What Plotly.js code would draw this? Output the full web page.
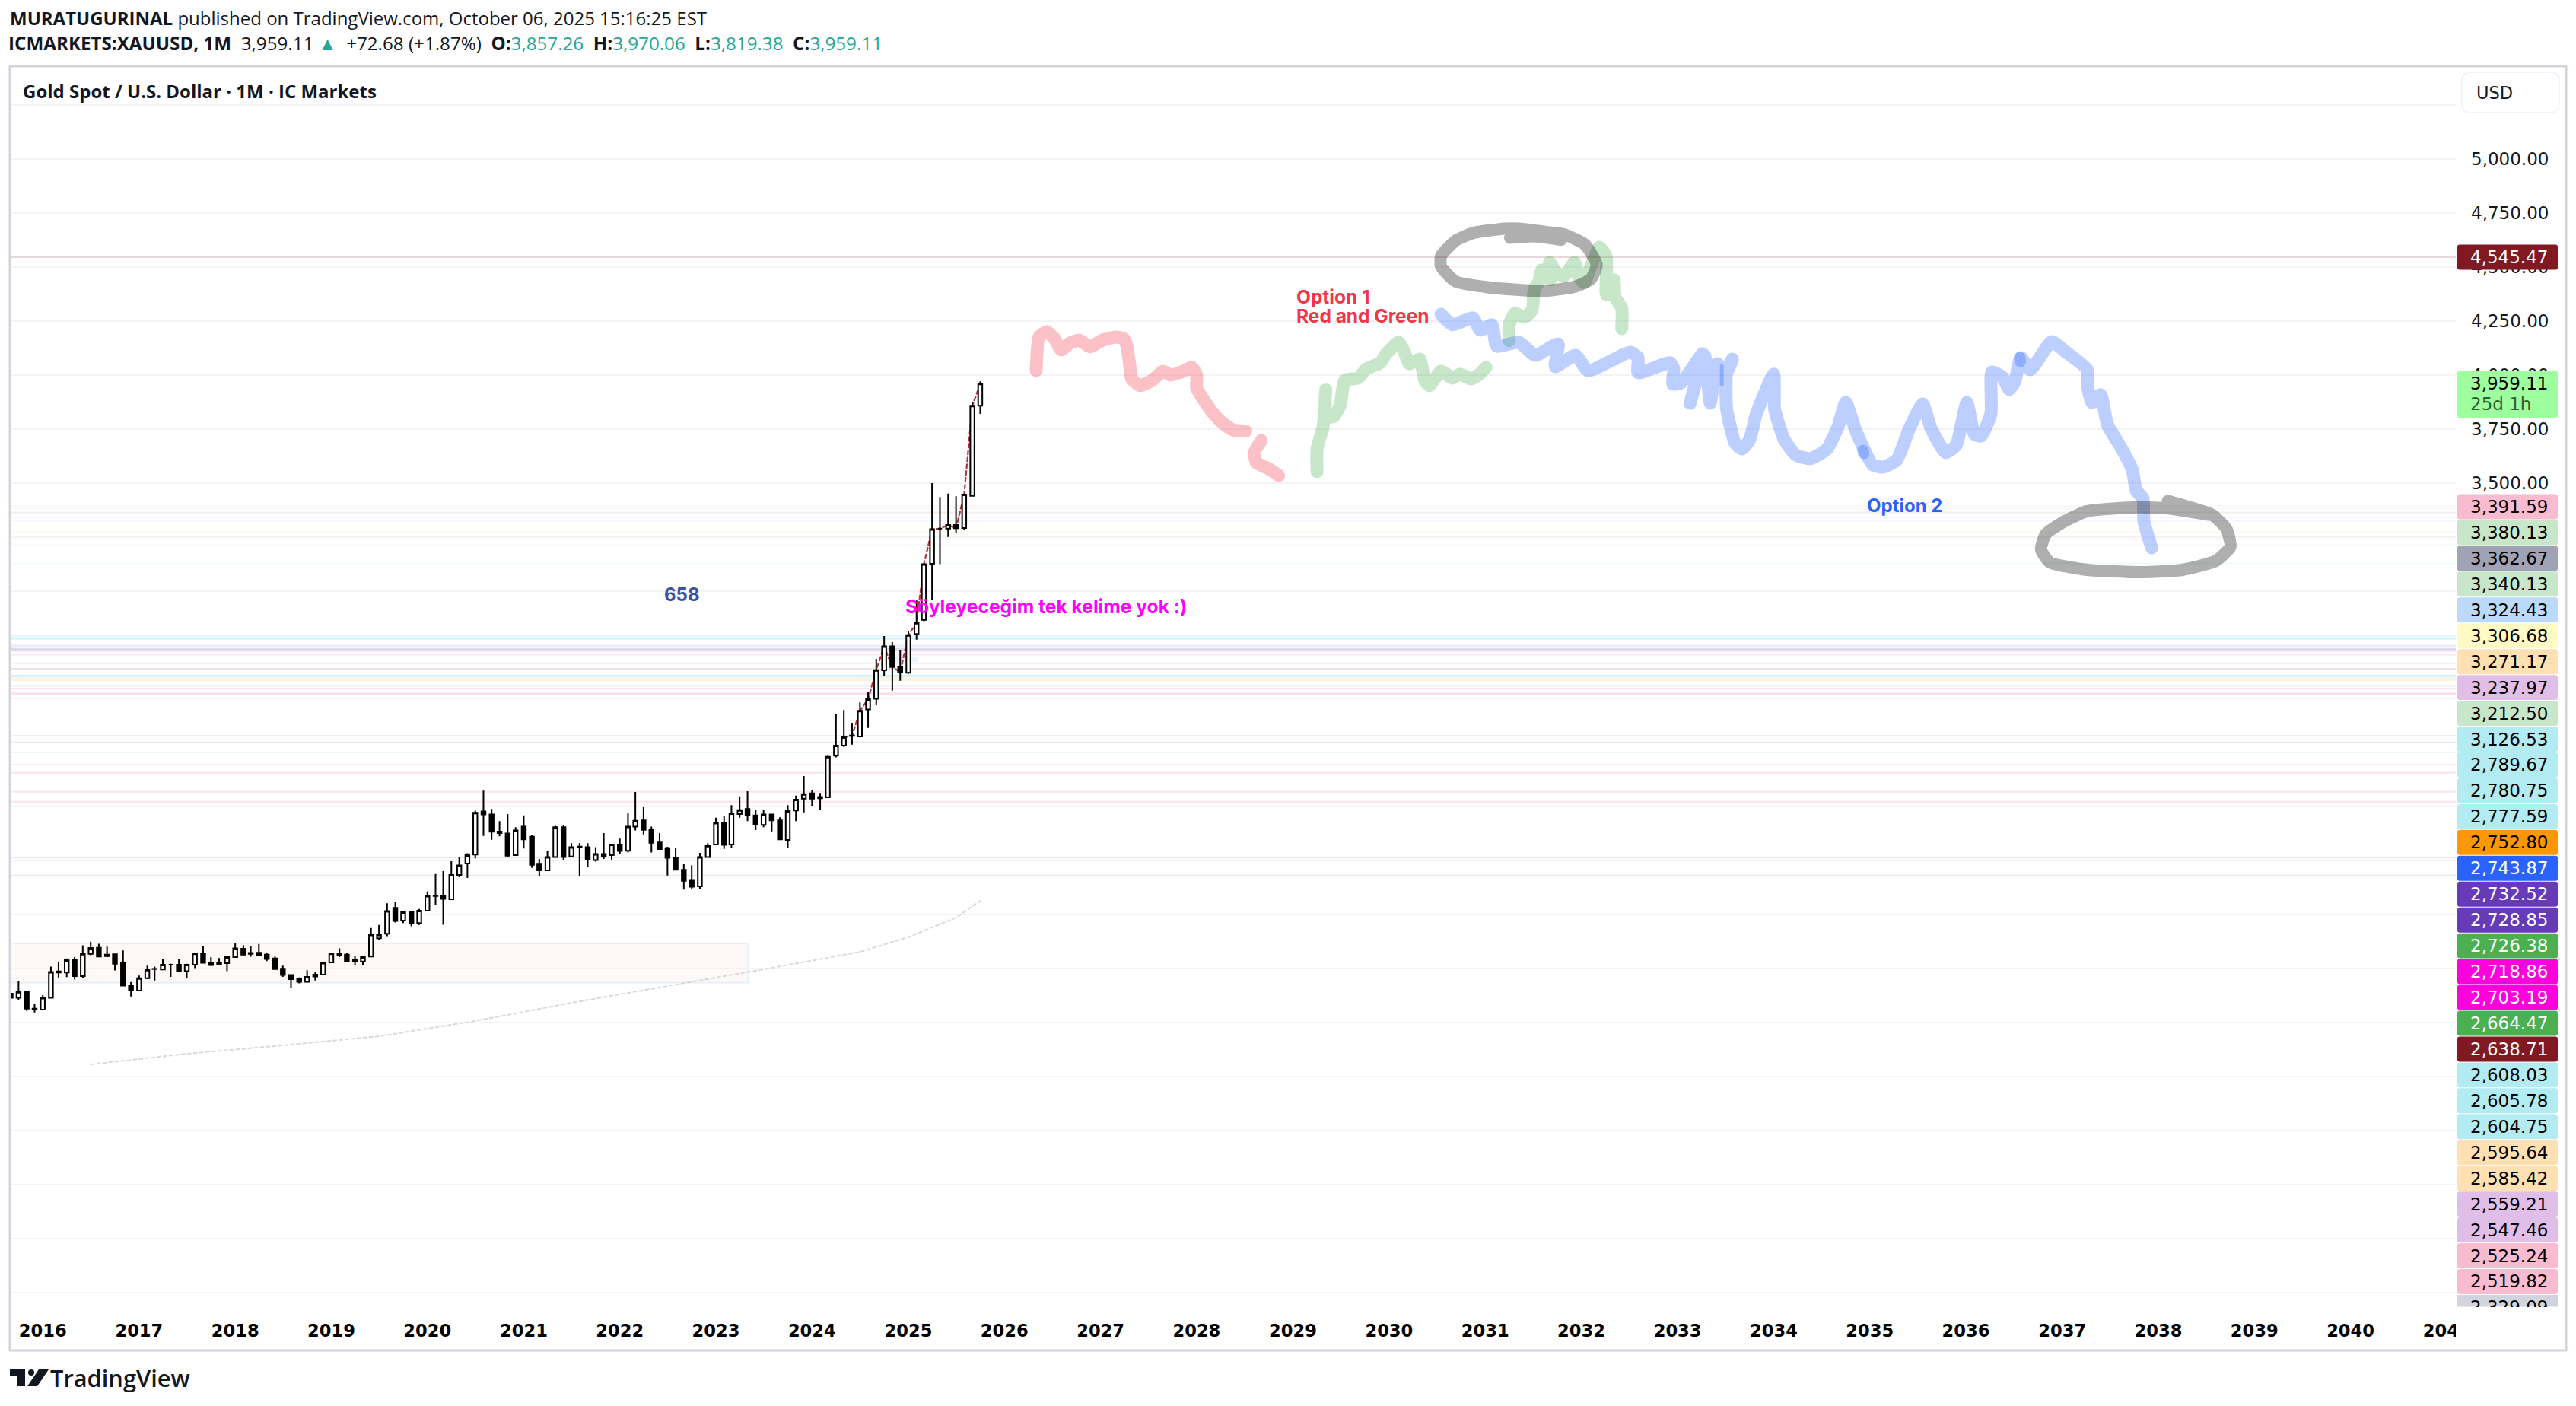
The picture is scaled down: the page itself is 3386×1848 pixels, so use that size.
<!DOCTYPE html>
<html><head><meta charset="utf-8">
<script src="https://cdn.plot.ly/plotly-3.0.1.min.js"></script>
<style>html,body{margin:0;padding:0;background:#fff}#c{width:3386px;height:1848px}</style>
</head><body><div id="c"></div>
<script>
const months=["2015-09","2015-10","2015-11","2015-12",
"2016-01","2016-02","2016-03","2016-04","2016-05","2016-06","2016-07","2016-08","2016-09","2016-10","2016-11","2016-12",
"2017-01","2017-02","2017-03","2017-04","2017-05","2017-06","2017-07","2017-08","2017-09","2017-10","2017-11","2017-12",
"2018-01","2018-02","2018-03","2018-04","2018-05","2018-06","2018-07","2018-08","2018-09","2018-10","2018-11","2018-12",
"2019-01","2019-02","2019-03","2019-04","2019-05","2019-06","2019-07","2019-08","2019-09","2019-10","2019-11","2019-12",
"2020-01","2020-02","2020-03","2020-04","2020-05","2020-06","2020-07","2020-08","2020-09","2020-10","2020-11","2020-12",
"2021-01","2021-02","2021-03","2021-04","2021-05","2021-06","2021-07","2021-08","2021-09","2021-10","2021-11","2021-12",
"2022-01","2022-02","2022-03","2022-04","2022-05","2022-06","2022-07","2022-08","2022-09","2022-10","2022-11","2022-12",
"2023-01","2023-02","2023-03","2023-04","2023-05","2023-06","2023-07","2023-08","2023-09","2023-10","2023-11","2023-12",
"2024-01","2024-02","2024-03","2024-04","2024-05","2024-06","2024-07","2024-08","2024-09","2024-10","2024-11","2024-12",
"2025-01","2025-02","2025-03","2025-04","2025-05","2025-06","2025-07","2025-08","2025-09","2025-10"];
const opens=[1134,1115,1142,1065,
1060,1115,1237,1232,1289,1215,1318,1347,1308,1317,1276,1171,
1148,1206,1248,1246,1268,1268,1238,1268,1320,1277,1270,1275,
1303,1342,1318,1324,1315,1297,1250,1221,1201,1189,1214,1222,
1279,1321,1315,1292,1283,1306,1391,1412,1532,1473,1512,1461,
1518,1588,1588,1571,1684,1737,1778,1978,1964,1885,1876,1776,
1908,1861,1736,1705,1767,1905,1769,1813,1813,1753,1781,1776,
1825,1796,1908,1937,1893,1835,1808,1763,1708,1661,1631,1767,
1825,1925,1825,1966,1990,1960,1916,1964,1937,1846,1983,2037,
2062,2039,2043,2236,2283,2330,2325,2450,2500,2632,2743,2647,
2620,2800,2865,3125,3288,3288,3305,3291,3440,3857.26];
const highs=[1156,1191,1142,1088,
1127,1259,1282,1297,1303,1358,1375,1365,1352,1317,1334,1188,
1218,1264,1259,1295,1273,1295,1273,1324,1356,1303,1299,1303,
1367,1359,1356,1364,1324,1306,1264,1221,1209,1243,1236,1279,
1324,1344,1324,1309,1306,1438,1452,1553,1557,1518,1514,1526,
1608,1688,1702,1747,1765,1784,1982,2074,1990,1933,1966,1905,
1960,1870,1758,1796,1911,1916,1831,1831,1831,1813,1878,1825,
1852,1972,2068,1998,1908,1878,1814,1808,1734,1729,1786,1831,
1949,1958,2007,2048,2072,1984,1987,1964,1951,2007,2051,2142,
2078,2064,2236,2431,2448,2389,2483,2530,2685,2790,2762,2727,
2814,2955,3128,3499,3434,3450,3438,3450,3871,3970.06];
const lows=[1098,1103,1054,1047,
1060,1113,1209,1211,1200,1207,1312,1306,1303,1242,1171,1121,
1148,1201,1195,1246,1212,1238,1205,1252,1277,1262,1266,1238,
1303,1309,1305,1312,1285,1244,1212,1160,1182,1185,1195,1222,
1277,1303,1279,1267,1267,1306,1383,1400,1464,1461,1446,1452,
1518,1547,1453,1571,1673,1670,1761,1865,1847,1863,1767,1776,
1806,1717,1678,1705,1764,1752,1769,1678,1720,1746,1758,1753,
1781,1788,1890,1872,1788,1804,1681,1708,1616,1620,1620,1767,
1825,1805,1810,1949,1933,1892,1905,1886,1849,1811,1933,1974,
2004,1985,2043,2228,2277,2287,2321,2365,2471,2606,2538,2583,
2615,2774,2859,2959,3123,3249,3268,3282,3440,3819.38];
const closes=[1115,1142,1065,1060,
1115,1235,1232,1289,1215,1318,1346,1306,1315,1273,1171,1151,
1206,1244,1249,1268,1268,1238,1268,1320,1277,1266,1275,1303,
1344,1315,1323,1312,1295,1248,1221,1201,1189,1212,1222,1277,
1320,1313,1285,1283,1303,1407,1407,1517,1471,1511,1461,1518,
1587,1586,1573,1684,1728,1776,1972,1964,1884,1878,1773,1890,
1849,1731,1705,1767,1905,1767,1813,1815,1757,1781,1770,1825,
1795,1908,1935,1893,1833,1804,1763,1708,1657,1629,1767,1819,
1925,1823,1969,1984,1960,1919,1964,1937,1849,1980,2033,2058,
2037,2045,2231,2283,2322,2328,2444,2498,2633,2743,2647,2624,
2795,2851,3123,3285,3288,3305,3290,3446,3857,3959.11];

const maYears=[2016.5,2017.5,2018.5,2019.5,2020.5,2021.5,2022.5,2023.5,2024.5,2025,2025.5,2025.75];
const maPrices=[807,856,895,937,1008,1092,1170,1247,1328,1396,1487,1565];

const redYears=[2026.33,2026.36,2026.44,2026.52,2026.59,2026.68,2026.78,2026.89,2027.02,2027.16,2027.24,2027.27,2027.31,2027.32,2027.41,2027.54,2027.65,2027.73,2027.86,2027.95,2028.00,2028.00,2028.06,2028.17,2028.26,2028.37,2028.51,null,2028.67,2028.60,2028.62,2028.76,2028.85];
const redPrices=[4020,4175,4200,4168,4116,4147,4161,4130,4161,4175,4168,4140,4024,3985,3950,3975,4017,3999,4017,4035,3999,3939,3894,3823,3781,3746,3739,null,3696,3640,3594,3562,3534];

const greenYears=[2029.25,2029.25,2029.31,2029.33,2029.34,2029.34,2029.42,2029.49,2029.54,2029.68,2029.76,2029.91,2029.97,2030.10,2030.16,2030.21,2030.32,2030.37,2030.42,2030.54,2030.66,2030.74,2030.85,2030.93,2031.01,null,
2031.25,2031.25,2031.31,2031.41,2031.49,2031.51,2031.56,2031.59,2031.68,2031.67,2031.74,2031.82,2031.93,2031.97,2032.03,2032.10,2032.19,2032.26,2032.26,2032.34,2032.35,2032.42,2032.42];
const greenPrices=[3552,3657,3753,3823,3929,3809,3806,3858,3975,3985,4027,4056,4098,4151,4105,4052,4073,3975,3950,4017,3985,4003,3982,3999,4035,null,
4158,4232,4285,4267,4302,4397,4433,4486,4440,4521,4475,4457,4521,4457,4426,4503,4591,4545,4373,4440,4362,4309,4214];

const blueYears=[2030.54,2030.66,2030.87,2030.95,2031.07,2031.12,2031.35,2031.52,2031.76,2031.73,2031.94,2032.07,2032.51,2032.59,2032.59,2032.92,2032.96,2032.95,2033.04,2033.26,2033.13,2033.28,2033.34,2033.41,2033.51,2033.57,2033.51,2033.51,2033.60,2033.67,2033.75,2033.82,2034.00,2034.01,2034.11,2034.23,2034.38,2034.55,2034.67,2034.75,2034.86,2035.03,2035.14,2035.28,2035.41,2035.55,2035.64,2035.79,2035.90,2036.01,2036.09,2036.16,2036.26,2036.27,2036.38,2036.45,2036.51,2036.57,2036.67,2036.89,2037.03,2037.26,2037.26,2037.31,2037.40,2037.47,2037.61,2037.73,2037.77,2037.84,2037.85,2037.93];
const bluePrices=[4281,4232,4264,4207,4232,4133,4151,4091,4144,4038,4091,4020,4105,4080,4010,4056,4027,3957,3964,4098,3869,4091,3869,4052,4010,4073,4010,3844,3682,3657,3700,3820,4003,3841,3700,3629,3612,3654,3760,3872,3735,3584,3573,3605,3749,3865,3749,3640,3675,3872,3724,3717,3820,4013,3990,3932,3971,4080,4024,4154,4109,4024,3961,3872,3908,3770,3665,3559,3464,3428,3323,3199];
const blueDotYears=[2034.93,2034.935,null,2036.56,2036.565];
const blueDotPrices=[3650,3636,null,4080,4062];
const blueSeamYears=[2033.46,2033.46];
const blueSeamPrices=[4040,3955];

const grayYears=[2031.21,2030.88,2030.69,2030.54,2030.54,2030.69,2031.04,2031.60,2031.94,2032.10,2032.16,2032.04,2031.82,2031.63,2031.35,2031.21,null,2031.26,2031.51,2031.79,null,
2038.10,2038.56,2038.71,2038.75,2038.60,2038.25,2037.83,2037.26,2036.87,2036.78,2036.83,2037.03,2037.26,2037.79,2038.10,2038.53];
const grayPrices=[4677,4658,4621,4550,4503,4433,4405,4388,4409,4444,4510,4603,4651,4662,4677,4677,null,4635,4642,4626,null,
3416,3352,3286,3204,3139,3097,3086,3097,3132,3192,3263,3323,3369,3387,3381,3352];

const levelPrices=[4545.47,3391.59,3380.13,3362.67,3340.13,3324.43,3306.68,3271.17,3237.97,3212.50,3126.53,2789.67,2780.75,2777.59,2752.80,2743.87,2732.52,2728.85,2726.38,2718.86,2703.19,2664.47,2638.71,2608.03,2605.78,2604.75,2595.64,2585.42,2559.21,2547.46,2525.24,2519.82,2329.09];
const levelLabels=["4,545.47","3,391.59","3,380.13","3,362.67","3,340.13","3,324.43","3,306.68","3,271.17","3,237.97","3,212.50","3,126.53","2,789.67","2,780.75","2,777.59","2,752.80","2,743.87","2,732.52","2,728.85","2,726.38","2,718.86","2,703.19","2,664.47","2,638.71","2,608.03","2,605.78","2,604.75","2,595.64","2,585.42","2,559.21","2,547.46","2,525.24","2,519.82","2,329.09"];
const levelColors=["#801922","#F8BBD0","#C8E6C9","#9FA3B5","#C8E6C9","#BBD9FB","#FFF9C4","#FFE0B2","#E1BEE7","#C8E6C9","#B2EBF2","#B2EBF2","#B2EBF2","#B2EBF2","#FF9800","#2962FF","#673AB7","#673AB7","#4CAF50","#FF00DD","#FF00DD","#4CAF50","#801922","#B2EBF2","#B2EBF2","#B2EBF2","#FFE0B2","#FFE0B2","#E1BEE7","#E1BEE7","#F8BBD0","#F8BBD0","#D1D4DC"];
const faintPinkLevels=[2195,2157,2069,2023];
const faintGrayLevels=[2298,1764,1681];
const yearTicks=[2016,2017,2018,2019,2020,2021,2022,2023,2024,2025,2026,2027,2028,2029,2030,2031,2032,2033,2034,2035,2036,2037,2038,2039,2040,2041];
const gridPrices=[5250,5000,4750,4500,4250,4000,3750,3500,3250,3000,2750,2500,2250,2000,1750,1500,1250,1000,750,500,250,0,-250];
const shownPrices=[5000,4750,4500,4250,4000,3750,3500];
const zoneTop=1367, zoneBottom=1185, zoneEnd="2023-05-03";
const smallZone={x0:"2024-10-20",x1:"2025-02-05",top:2696,bottom:2671};
const closeLineStart="2024-05";

/* frame geometry */
const W=3386,H=1848,L=14,R=3228,T=88,B=1718;
const px=x=>(x-L)/(R-L), py=y=>(B-y)/(B-T);
const dateOf=v=>{if(v===null)return null;const y=Math.floor(v);const a=Date.UTC(y,0,1),b=Date.UTC(y+1,0,1);return a+(v-y)*(b-a);};
const dates=a=>a.map(dateOf);
const FONT="DejaVu Sans", HEAD="Open Sans", NOTE="Inter";
const INK="#131722";

function box(x0,y0,x1,y1,r,fill,stroke){
  const X=v=>px(v).toFixed(6), Y=v=>py(v).toFixed(6);
  const path=`M ${X(x0+r)} ${Y(y0)} L ${X(x1-r)} ${Y(y0)} Q ${X(x1)} ${Y(y0)} ${X(x1)} ${Y(y0+r)} L ${X(x1)} ${Y(y1-r)} Q ${X(x1)} ${Y(y1)} ${X(x1-r)} ${Y(y1)} L ${X(x0+r)} ${Y(y1)} Q ${X(x0)} ${Y(y1)} ${X(x0)} ${Y(y1-r)} L ${X(x0)} ${Y(y0+r)} Q ${X(x0)} ${Y(y0)} ${X(x0+r)} ${Y(y0)} Z`;
  return {type:'path',xref:'paper',yref:'paper',path,fillcolor:fill,line:stroke?{color:stroke,width:2}:{width:0},layer:'above'};
}
function levelAlpha(c,p){
  const soft=["#F8BBD0","#C8E6C9","#BBD9FB","#FFF9C4","#FFE0B2","#E1BEE7","#B2EBF2","#D1D4DC"];
  if(soft.includes(c)) return p>3000?0.16:0.4;
  if(c==="#FF00DD") return 0.08;
  return p>3000?0.16:0.12;
}
const shapes=[];
/* zones */
shapes.push({type:'rect',xref:'x',yref:'y',x0:"2015-01-01",x1:zoneEnd,y0:zoneBottom,y1:zoneTop,fillcolor:'rgba(230,120,90,0.05)',line:{color:'#e6f0fb',width:2},layer:'below'});
shapes.push({type:'rect',xref:'x',yref:'y',x0:smallZone.x0,x1:smallZone.x1,y0:smallZone.bottom,y1:smallZone.top,fillcolor:'rgba(41,98,255,0.09)',line:{width:0},layer:'below'});
/* levels */
levelPrices.forEach((p,i)=>shapes.push({type:'line',xref:'paper',yref:'y',x0:0,x1:1,y0:p,y1:p,line:{color:levelColors[i],width:2},opacity:levelAlpha(levelColors[i],p),layer:'below'}));
faintPinkLevels.forEach(p=>shapes.push({type:'line',xref:'paper',yref:'y',x0:0,x1:1,y0:p,y1:p,line:{color:'#F8BBD0',width:2},opacity:0.4,layer:'below'}));
faintGrayLevels.forEach(p=>shapes.push({type:'line',xref:'paper',yref:'y',x0:0,x1:1,y0:p,y1:p,line:{color:'#B4B7CC',width:2},opacity:0.3,layer:'below'}));
/* right column cover (clips the cut-off year label) */
shapes.push({type:'rect',xref:'paper',yref:'paper',x0:px(3228),x1:px(3372),y0:py(1772),y1:py(1718),fillcolor:'#fff',line:{width:0},layer:'above'});
/* price boxes */
const STEP=33.95, FIRST=649;
const anns=[];
const ann=(o)=>anns.push(Object.assign({showarrow:false,xref:'paper',yref:'paper',borderpad:0,borderwidth:0},o));
levelLabels.forEach((t,i)=>{
  const c=levelColors[i];
  const white=["#801922","#2962FF","#673AB7","#4CAF50","#FF00DD"].includes(c);
  let top,bot;
  if(i===0){top=321;bot=355;} else {top=FIRST+(i-1)*STEP;bot=Math.min(top+STEP,B);}
  shapes.push(box(3230,top+0.5,3362,bot-0.5,i===levelLabels.length-1?0:3,c));
  const cy=i===0?338:FIRST+(i-1)*STEP+STEP/2;
  ann({x:px(3247),y:py(cy),xanchor:'left',yanchor:'middle',text:t,font:{family:FONT,size:23,color:white?'#fff':'#000'}});
});
shapes.push(box(3230,487,3362,549,3,'#9EFF9E'));
ann({x:px(3247),y:py(504),xanchor:'left',yanchor:'middle',text:"3,959.11",font:{family:FONT,size:23,color:'#000'}});
ann({x:px(3247),y:py(531),xanchor:'left',yanchor:'middle',text:"25d 1h",font:{family:FONT,size:23,color:'#2f5f2f'}});
shapes.push(box(3236,95,3364,148,12,'#fff','#f0f3fa'));
ann({x:px(3255),y:py(122),xanchor:'left',yanchor:'middle',text:"USD",font:{family:FONT,size:22.5,color:INK}});
/* cover for the label that runs off the bottom of the column */
ann({x:px(3230),y:py(1718),xanchor:'left',yanchor:'top',width:132,height:22,bgcolor:'#fff',text:' ',font:{size:10}});
/* frame */
shapes.push({type:'rect',xref:'paper',yref:'paper',x0:px(13),x1:px(3373),y0:py(1775),y1:py(87),line:{color:'#d1d4dc',width:3},layer:'above'});
/* logo */
const P=(pts)=>'M '+pts.map(([a,b])=>px(a).toFixed(6)+' '+py(b).toFixed(6)).join(' L ')+' Z';
shapes.push({type:'path',xref:'paper',yref:'paper',fillcolor:INK,line:{width:0},layer:'above',path:P([[13,1800],[33,1800],[33,1822],[22,1822],[22,1808],[13,1808]])});
shapes.push({type:'path',xref:'paper',yref:'paper',fillcolor:INK,line:{width:0},layer:'above',path:P([[51,1800],[64,1800],[49,1822],[36,1822]])});
shapes.push({type:'circle',xref:'paper',yref:'paper',fillcolor:INK,line:{width:0},layer:'above',x0:px(37),x1:px(45),y0:py(1808),y1:py(1800)});

/* header + title */
const UP='#26a69a';
const g=s=>`<span style="color:${UP}">${s}</span>`;
const SP='\u00A0';
ann({x:px(13),y:py(23.5),xanchor:'left',yanchor:'middle',align:'left',text:'<b>MURATUGURINAL</b> published on TradingView.com, October 06, 2025 15:16:25 EST',font:{family:HEAD,size:24,color:INK}});
ann({x:px(11),y:py(56.5),xanchor:'left',yanchor:'middle',align:'left',text:`<b>ICMARKETS:XAUUSD, 1M</b>${SP}${SP}3,959.11 ${g('▲')}${SP}${SP}+72.68 (+1.87%)${SP}${SP}<b>O:</b>${g('3,857.26')}${SP}${SP}<b>H:</b>${g('3,970.06')}${SP}${SP}<b>L:</b>${g('3,819.38')}${SP}${SP}<b>C:</b>${g('3,959.11')}`,font:{family:HEAD,size:24.2,color:INK}});
ann({x:px(30),y:py(119),xanchor:'left',yanchor:'middle',align:'left',text:'<b>Gold Spot / U.S. Dollar · 1M · IC Markets</b>',font:{family:HEAD,size:24,color:INK}});
ann({x:px(66),y:py(1811),xanchor:'left',yanchor:'middle',align:'left',text:'TradingView',font:{family:HEAD,size:30.8,color:INK,weight:600}});

/* chart notes, placed in data space */
const note=(yr,price,text,color,size,extra)=>anns.push(Object.assign({showarrow:false,xref:'x',yref:'y',x:dateOf(yr),y:price,xanchor:'left',yanchor:'middle',align:'left',borderpad:0,text,font:{family:NOTE,size,color}},extra||{}));
note(2022.65,2981,'<b>658</b>','#3a53a4',24,{xanchor:'center'});
note(2024.96,2928,'<b>Söyleyeceğim tek kelime yok :)</b>','#ff00ff',24.6);
note(2029.03,4363,'<b>Option 1</b>','#f23645',24.5);
note(2029.03,4275,'<b>Red and Green</b>','#f23645',24.5);
note(2034.96,3393,'<b>Option 2</b>','#2962ff',24);

/* traces */
const stroke=(xs,ys,color,width,op)=>({type:'scatter',mode:'lines',x:dates(xs),y:ys,yaxis:'y',line:{color,width,shape:'spline',smoothing:0.5},opacity:op,connectgaps:false,hoverinfo:'skip',showlegend:false});
const startIdx=months.indexOf(closeLineStart);
const traces=[
 {type:'scatter',mode:'lines',x:dates(maYears),y:maPrices,line:{color:'#d9d9d9',width:2,dash:'4px,4px'},hoverinfo:'skip',showlegend:false},
 {type:'scatter',mode:'lines',x:months.slice(startIdx).map(m=>m+'-01'),y:closes.slice(startIdx),line:{color:'#b2323c',width:2.2,dash:'5px,4px'},hoverinfo:'skip',showlegend:false},
 stroke(redYears,redPrices,'#f23645',17,0.3),
 stroke(greenYears,greenPrices,'#4caf50',17,0.3),
 stroke(blueYears,bluePrices,'#2962ff',17,0.3),
 stroke(blueDotYears,blueDotPrices,'#2962ff',15,0.3),
 stroke(blueSeamYears,blueSeamPrices,'#2962ff',5,0.3),
 stroke(grayYears,grayPrices,'#000000',16,0.31),
 {type:'candlestick',x:months.map(m=>m+'-01'),open:opens,high:highs,low:lows,close:closes,yaxis:'y2',
  increasing:{line:{color:'#000',width:2},fillcolor:'#fff'},
  decreasing:{line:{color:'#000',width:2},fillcolor:'#000'},
  whiskerwidth:0,hoverinfo:'skip',showlegend:false}
];
const yRange=[-317.4,5426];
const layout={
 width:W,height:H,autosize:false,showlegend:false,hovermode:false,
 paper_bgcolor:'#fff',plot_bgcolor:'#fff',
 margin:{l:L,r:W-R,t:T,b:H-B,pad:0},
 boxgap:0.2,boxgroupgap:0.3,
 xaxis:{type:'date',range:['2015-09-01','2041-02-04'],autorange:false,rangeslider:{visible:false},showgrid:false,zeroline:false,showline:false,
   tickmode:'array',tickvals:yearTicks.map(y=>y+'-01-01'),ticktext:yearTicks.map(String),ticks:'',ticklabelstandoff:15,
   tickangle:0,tickfont:{family:FONT,size:22.6,color:'#000',weight:'bold'},fixedrange:true},
 yaxis:{side:'right',range:yRange,autorange:false,tickmode:'array',tickvals:gridPrices,
   ticktext:gridPrices.map(p=>shownPrices.includes(p)?p.toLocaleString('en-US',{minimumFractionDigits:2,maximumFractionDigits:2}):''),
   showgrid:true,gridcolor:'#f3f3f5',gridwidth:2,zeroline:false,showline:false,
   ticks:'',ticklabelstandoff:19,tickfont:{family:FONT,size:23,color:INK},fixedrange:true},
 yaxis2:{overlaying:'y',side:'right',range:yRange,autorange:false,visible:false,showgrid:false,zeroline:false,fixedrange:true},
 shapes,annotations:anns
};
Plotly.newPlot('c',traces,layout,{displayModeBar:false,responsive:false}).then(()=>{
  document.querySelectorAll('.scatterlayer .js-line').forEach(e=>{e.style.strokeLinecap='round';e.style.strokeLinejoin='round';});
});
</script></body></html>
